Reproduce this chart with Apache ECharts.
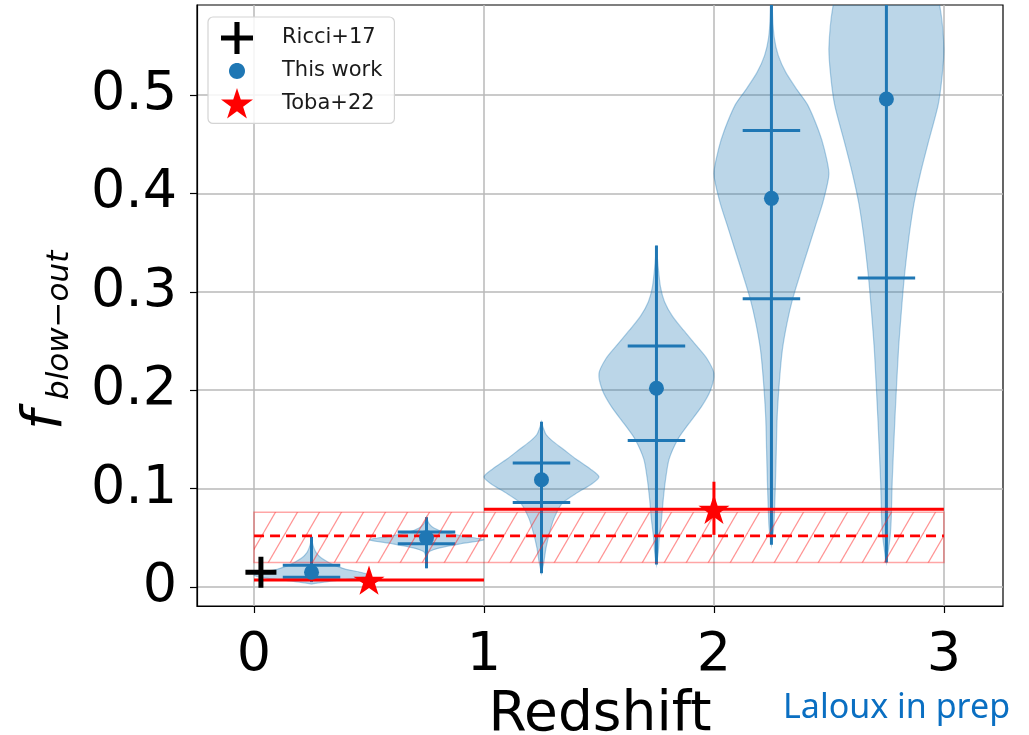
<!DOCTYPE html>
<html><head><meta charset="utf-8">
<script src="https://cdn.jsdelivr.net/npm/echarts@6/dist/echarts.min.js"></script>
<style>html,body{margin:0;padding:0;background:#fff}#c{width:1029px;height:735px}</style>
</head><body><div id="c"></div>
<script>
// ---- data ----
const xTicks = [0, 1, 2, 3];
const yTicks = [0, 0.1, 0.2, 0.3, 0.4, 0.5];
const violinCenters = [0.25, 0.75, 1.25, 1.75, 2.25, 2.75];
const violinMedians = [0.015, 0.050, 0.109, 0.202, 0.395, 0.496];
const violinMin = [0.005, 0.019, 0.014, 0.023, 0.043, 0.025];
const violinMax = [0.051, 0.071, 0.168, 0.347, 0.65, 0.75];
const violinQLow = [0.010, 0.044, 0.086, 0.149, 0.293, 0.314];
const violinQHigh = [0.022, 0.056, 0.126, 0.245, 0.464, 0.68];
const violinLevels = [
  [0.003, 0.006, 0.009, 0.012, 0.015, 0.018, 0.021, 0.025, 0.030, 0.035, 0.040, 0.045, 0.051],
  [0.019, 0.030, 0.036, 0.040, 0.044, 0.048, 0.052, 0.056, 0.060, 0.064, 0.068, 0.071],
  [0.014, 0.025, 0.040, 0.055, 0.070, 0.085, 0.095, 0.105, 0.112, 0.120, 0.130, 0.140, 0.148, 0.155, 0.162, 0.168],
  [0.023, 0.035, 0.050, 0.070, 0.090, 0.110, 0.130, 0.150, 0.165, 0.183, 0.200, 0.217, 0.232, 0.245, 0.261, 0.275, 0.290, 0.305, 0.325, 0.347],
  [0.043, 0.060, 0.080, 0.106, 0.140, 0.173, 0.210, 0.241, 0.268, 0.293, 0.318, 0.342, 0.366, 0.392, 0.420, 0.445, 0.464, 0.490, 0.505, 0.523, 0.540, 0.558, 0.580, 0.620, 0.650],
  [0.025, 0.040, 0.055, 0.071, 0.106, 0.173, 0.241, 0.280, 0.314, 0.355, 0.390, 0.420, 0.450, 0.490, 0.520, 0.548, 0.590, 0.630, 0.670, 0.700, 0.750]
];
const violinWidths = [
  [0, 0.35, 0.8, 1.0, 0.85, 0.6, 0.45, 0.3, 0.16, 0.08, 0.04, 0.015, 0],
  [0, 0.01, 0.05, 0.25, 0.6, 1.0, 0.6, 0.3, 0.13, 0.05, 0.015, 0],
  [0, 0.04, 0.08, 0.14, 0.22, 0.36, 0.6, 0.88, 1.0, 0.85, 0.6, 0.38, 0.2, 0.08, 0.03, 0],
  [0, 0.03, 0.05, 0.09, 0.12, 0.16, 0.22, 0.37, 0.55, 0.78, 0.94, 1.0, 0.88, 0.7, 0.47, 0.28, 0.14, 0.07, 0.03, 0],
  [0, 0.04, 0.055, 0.07, 0.085, 0.1, 0.14, 0.19, 0.27, 0.37, 0.5, 0.63, 0.76, 0.9, 1.0, 0.92, 0.82, 0.63, 0.45, 0.25, 0.12, 0.05, 0.02, 0.005, 0],
  [0, 0.04, 0.07, 0.085, 0.1, 0.15, 0.21, 0.26, 0.31, 0.39, 0.48, 0.59, 0.72, 0.9, 0.97, 1.0, 0.93, 0.75, 0.45, 0.2, 0]
];
const ricciPoints = [[0.03, 0.015]];
const tobaPoints = [[0.5, 0.007], [2.0, 0.079]];
const tobaXErr = [[0, 1], [1, 3]];
const tobaYErr = [[0.007, 0.007], [0.053, 0.107]];
const bandX = [0, 3];
const bandY = [0.025, 0.076];
const bandMid = 0.052;

// ---- helpers for marker shapes ----
function starPath() {
  let p = '';
  for (let i = 0; i < 10; i++) {
    const r = i % 2 === 0 ? 1 : 0.381966;
    const a = -Math.PI / 2 + i * Math.PI / 5;
    p += (i === 0 ? 'M' : 'L') + (r * Math.cos(a)).toFixed(4) + ' ' + (r * Math.sin(a)).toFixed(4) + ' ';
  }
  return 'path://' + p + 'Z';
}
const plusPath = 'path://M-0.08 -0.5 L0.08 -0.5 L0.08 -0.08 L0.5 -0.08 L0.5 0.08 L0.08 0.08 L0.08 0.5 L-0.08 0.5 L-0.08 0.08 L-0.5 0.08 L-0.5 -0.08 L-0.08 -0.08 Z';
function dotIconPath() {
  let p = 'M0 0 L0.01 0 Z M32 32 L32.01 32 Z ';
  for (let i = 0; i <= 36; i++) {
    const a = i * Math.PI * 2 / 36;
    p += (i === 0 ? 'M' : 'L') + (16 + 8 * Math.cos(a)).toFixed(3) + ' ' + (16 + 8 * Math.sin(a)).toFixed(3) + ' ';
  }
  return 'path://' + p + 'Z';
}
function makeHatch() {
  const w = 22, h = 38;
  const c = document.createElement('canvas');
  c.width = w; c.height = h;
  const g = c.getContext('2d');
  g.strokeStyle = 'rgba(255,40,40,0.5)';
  g.lineWidth = 1.2;
  for (const k of [-1, 0, 1]) {
    g.beginPath(); g.moveTo(k * w, h); g.lineTo(k * w + w, 0); g.stroke();
  }
  return c;
}
const hatch = makeHatch();
const BLUE = '#1f77b4';
const HALF = 0.25;

const chart = echarts.init(document.getElementById('c'), null, { renderer: 'canvas' });

function clipRect(params) {
  const cs = params.coordSys;
  return { type: 'rect', shape: { x: cs.x, y: cs.y, width: cs.width, height: cs.height } };
}

const option = {
  animation: false,
  backgroundColor: '#fff',
  grid: { left: 197, right: 26, top: 5, bottom: 129, containLabel: false, outerBoundsMode: 'none',
    show: true, borderColor: '#000', borderWidth: 1.2, backgroundColor: 'transparent' },
  xAxis: {
    type: 'value', min: -0.248, max: 3.257, splitNumber: 3,
    name: 'Redshift', nameLocation: 'middle', nameGap: 76,
    nameTextStyle: { fontSize: 55, fontFamily: 'DejaVu Sans', color: '#000' },
    axisLine: { show: true, onZero: false, lineStyle: { color: '#000', width: 1.2 } },
    axisTick: { show: true, length: 7, lineStyle: { color: '#000', width: 1.2 }, customValues: xTicks },
    axisLabel: { fontSize: 54, fontFamily: 'DejaVu Sans', color: '#000', margin: 23, customValues: xTicks },
    splitLine: { show: true, lineStyle: { color: '#b8b8b8', width: 1.5 } }
  },
  yAxis: {
    type: 'value', min: -0.0193, max: 0.5915, splitNumber: 6,
    axisLine: { show: true, onZero: false, lineStyle: { color: '#000', width: 1.2 } },
    axisTick: { show: true, length: 7, lineStyle: { color: '#000', width: 1.2 }, customValues: yTicks },
    axisLabel: { fontSize: 54, fontFamily: 'DejaVu Sans', color: '#000', margin: 20, customValues: yTicks,
      formatter: v => (Math.abs(v) < 1e-9 ? '0' : String(Math.round(v * 10) / 10)) },
    splitLine: { show: true, lineStyle: { color: '#b8b8b8', width: 1.5 } }
  },
  legend: {
    orient: 'vertical', left: 208, top: 17,
    padding: [5, 12, 5, 13], itemWidth: 32, itemHeight: 32, itemGap: 1,
    backgroundColor: 'rgba(255,255,255,0.85)', borderColor: '#d4d4d4', borderWidth: 1.2, borderRadius: 5,
    textStyle: { fontSize: 21, fontFamily: 'DejaVu Sans', color: '#1a1a1a', padding: [0, 0, 0, 24] },
    data: [
      { name: 'Ricci+17', icon: plusPath },
      { name: 'This work', icon: dotIconPath() },
      { name: 'Toba+22', icon: starPath() }
    ]
  },
  graphic: [
    {
      type: 'group', x: 46, y: 430, rotation: Math.PI / 2,
      children: [
        { type: 'text', x: 0, y: 0, style: { text: 'f', font: 'italic 56px "DejaVu Sans"', fill: '#000', align: 'left', verticalAlign: 'middle' } },
        { type: 'text', x: 30, y: 14, style: { text: 'blow\u2212out', font: 'italic 31px "DejaVu Sans"', fill: '#000', align: 'left', verticalAlign: 'middle' } }
      ]
    },
    { type: 'text', left: 783, top: 691, style: { text: 'Laloux in prep', font: '34px "Noto Sans"', fill: '#0a6fc2' } }
  ],
  series: [
    {
      name: 'violins', type: 'custom', z: 2, silent: true,
      data: violinCenters.map((c, i) => [c, violinMedians[i], i]),
      renderItem: function (params, api) {
        const i = api.value(2), c = api.value(0);
        const lv = violinLevels[i], wd = violinWidths[i];
        const pts = [];
        for (let k = 0; k < lv.length; k++) pts.push(api.coord([c + wd[k] * HALF, lv[k]]));
        for (let k = lv.length - 1; k >= 0; k--) pts.push(api.coord([c - wd[k] * HALF, lv[k]]));
        return {
          type: 'group', clipPath: clipRect(params),
          children: [{ type: 'polygon', shape: { points: pts, smooth: 0.25 },
            style: { fill: 'rgba(31,119,180,0.3)', stroke: 'rgba(31,119,180,0.35)', lineWidth: 1.2 } }]
        };
      }
    },
    {
      name: 'violinLines', type: 'custom', z: 3, silent: true,
      data: violinCenters.map((c, i) => [c, violinMedians[i], i]),
      renderItem: function (params, api) {
        const i = api.value(2), c = api.value(0);
        const st = { stroke: BLUE, lineWidth: 3 };
        const a = api.coord([c, violinMin[i]]), b = api.coord([c, violinMax[i]]);
        const l1 = api.coord([c - HALF / 2, violinQLow[i]]), r1 = api.coord([c + HALF / 2, violinQLow[i]]);
        const l2 = api.coord([c - HALF / 2, violinQHigh[i]]), r2 = api.coord([c + HALF / 2, violinQHigh[i]]);
        return {
          type: 'group', clipPath: clipRect(params),
          children: [
            { type: 'line', shape: { x1: a[0], y1: a[1], x2: b[0], y2: b[1] }, style: st },
            { type: 'line', shape: { x1: l1[0], y1: l1[1], x2: r1[0], y2: r1[1] }, style: st },
            { type: 'line', shape: { x1: l2[0], y1: l2[1], x2: r2[0], y2: r2[1] }, style: st }
          ]
        };
      }
    },
    {
      name: 'band', type: 'custom', z: 4, silent: true,
      data: [[bandX[0], bandY[0], bandX[1], bandY[1], bandMid]],
      renderItem: function (params, api) {
        const p0 = api.coord([api.value(0), api.value(3)]);
        const p1 = api.coord([api.value(2), api.value(1)]);
        const m0 = api.coord([api.value(0), api.value(4)]);
        const m1 = api.coord([api.value(2), api.value(4)]);
        return {
          type: 'group',
          children: [
            { type: 'rect', shape: { x: p0[0], y: p0[1], width: p1[0] - p0[0], height: p1[1] - p0[1] },
              style: { fill: { image: hatch, repeat: 'repeat' }, stroke: 'rgba(255,0,0,0.35)', lineWidth: 1.5 } },
            { type: 'line', shape: { x1: m0[0], y1: m0[1], x2: m1[0], y2: m1[1] },
              style: { stroke: '#ff0000', lineWidth: 2.6, lineDash: [10, 6] } }
          ]
        };
      }
    },
    {
      name: 'tobaErr', type: 'custom', z: 5, silent: true,
      data: tobaPoints.map((p, i) => [p[0], p[1], i]),
      renderItem: function (params, api) {
        const i = api.value(2);
        const x0 = api.coord([tobaXErr[i][0], api.value(1)]), x1 = api.coord([tobaXErr[i][1], api.value(1)]);
        const y0 = api.coord([api.value(0), tobaYErr[i][0]]), y1 = api.coord([api.value(0), tobaYErr[i][1]]);
        const st = { stroke: '#ff0000', lineWidth: 3 };
        return {
          type: 'group',
          children: [
            { type: 'line', shape: { x1: x0[0], y1: x0[1], x2: x1[0], y2: x1[1] }, style: st },
            { type: 'line', shape: { x1: y0[0], y1: y0[1], x2: y1[0], y2: y1[1] }, style: st }
          ]
        };
      }
    },
    {
      name: 'This work', type: 'scatter', z: 6, data: violinCenters.map((c, i) => [c, violinMedians[i]]),
      symbol: 'circle', symbolSize: 15, itemStyle: { color: BLUE, opacity: 1 }, silent: true
    },
    {
      name: 'Ricci+17', type: 'scatter', z: 7, data: ricciPoints,
      symbol: plusPath, symbolSize: 31, symbolKeepAspect: true, itemStyle: { color: '#000', opacity: 1 }, silent: true
    },
    {
      name: 'Toba+22', type: 'scatter', z: 8, data: tobaPoints,
      symbol: starPath(), symbolSize: 31, symbolKeepAspect: true, itemStyle: { color: '#ff0000', opacity: 1 }, silent: true
    }
  ]
};
chart.setOption(option);
</script>
</body></html>
